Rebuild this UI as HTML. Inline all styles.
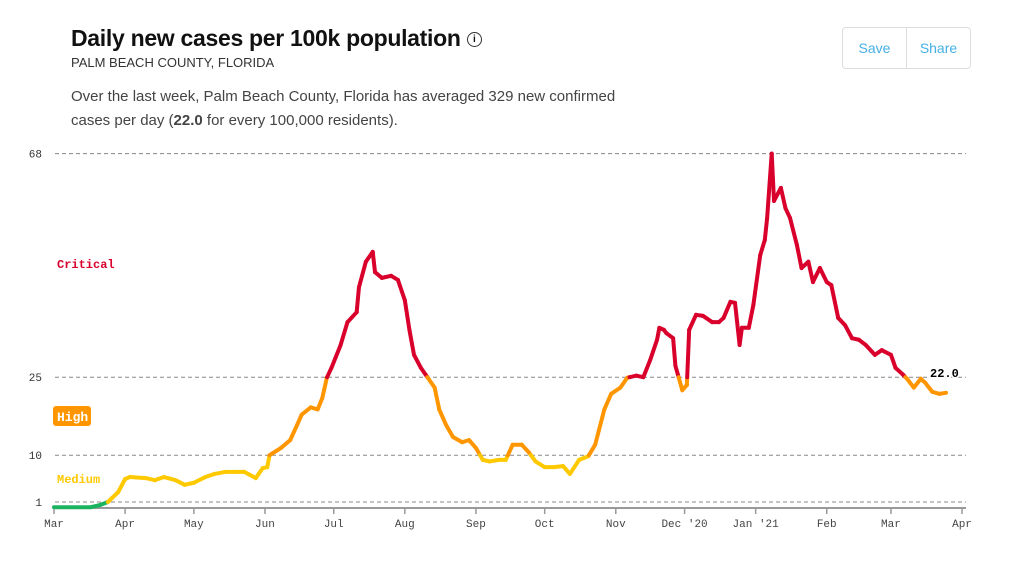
<!DOCTYPE html>
<html><head><meta charset="utf-8"><style>
body{margin:0;width:1010px;height:566px;background:#fff;font-family:"Liberation Sans",sans-serif;position:relative;overflow:hidden}
.t{position:absolute;left:71px;top:25px;font-size:23px;font-weight:bold;color:#111;letter-spacing:-0.3px}
.sub{position:absolute;left:71px;top:55px;font-size:13px;color:#333}
.desc{position:absolute;left:71px;top:85px;font-size:15px;color:#444;line-height:24px;width:575px}
.btns{position:absolute;left:842px;top:27px;width:127px;height:40px;border:1px solid #ddd;border-radius:4px;display:flex}
.btns div{flex:1;text-align:center;line-height:40px;font-size:14px;color:#45b0e6}
.btns div:first-child{border-right:1px solid #ddd}
</style></head><body>
<div class="t">Daily new cases per 100k population <span style="display:inline-block;width:13px;height:13px;border:1.5px solid #333;border-radius:50%;font-size:10px;line-height:13px;text-align:center;vertical-align:middle;font-weight:bold">i</span></div>
<div class="sub">PALM BEACH COUNTY, FLORIDA</div>
<div class="desc">Over the last week, Palm Beach County, Florida has averaged 329 new confirmed cases per day (<b>22.0</b> for every 100,000 residents).</div>
<div class="btns"><div>Save</div><div>Share</div></div>
<svg id="c" width="1010" height="566" style="position:absolute;left:0;top:0"></svg>
<script>
const days=[0,16,20,23.5,28,31,33,40,44,48,53,57,61,66,70,75,79,83,88,91,93,94,99,103,106,108,112,115,117,119,121,125,128,132,133,136,139,140,143,147,150,153,155,157,160,163,166,168,171,174,178,181,184,187,190,194,197,200,204,207,210,214,218,222,225,229,233,236,240,243,247,250,254,257,260,263,264,266,267,270,271,274,276,277,280,283,287,290,292,295,297,299,300,303,305,308,310,311,313,314,317,319,321,324,326,329,331,334,337,339,342,345,348,351,354,358,361,365,367,370,372,375,378,380,383,386,389];
const values=[0,0,0.4,1,2.9,5.4,5.8,5.6,5.2,5.8,5.2,4.3,4.7,5.8,6.4,6.8,6.8,6.8,5.6,7.5,7.7,10,11.4,12.9,15.8,17.8,19.2,18.8,21,24.9,26.8,31.2,35.6,37.5,42.3,47.2,49.1,45.2,44.1,44.5,43.7,39.8,34.1,29.3,26.8,24.9,23,18.8,15.8,13.5,12.5,12.9,11.4,9.1,8.8,9.1,9.1,12,12,10.6,8.8,7.7,7.7,7.9,6.4,9.1,9.8,12,18.8,21.8,23,24.9,25.3,25,28.3,32.2,34.5,34.1,33.5,32.5,27.2,22.5,23.5,34.1,37,36.8,35.6,35.6,36.4,39.5,39.3,31.2,34.5,34.5,38.9,48.5,51.4,55.6,68,58.9,61.4,57.5,55.6,50.4,46,47.2,43.3,46,43.3,42.7,36.4,35,32.5,32.2,31.2,29.3,30.2,29.3,26.8,25.6,24.7,23,24.7,23.9,22.2,21.8,22];
const yTicks=[68,25,10,1];
const months=["Mar","Apr","May","Jun","Jul","Aug","Sep","Oct","Nov","Dec '20","Jan '21","Feb","Mar","Apr"];
const monthDays=[0,31,61,92,122,153,184,214,245,275,306,337,365,396];
const X=d=>54+d*2.293, Y=v=>507.2-v*5.2;
const svg=document.getElementById('c'),NS='http://www.w3.org/2000/svg';
function mk(t,a,txt){const e=document.createElementNS(NS,t);for(const k in a)e.setAttribute(k,a[k]);if(txt!=null)e.textContent=txt;svg.appendChild(e);return e;}
const mono='"Liberation Mono",monospace';
yTicks.forEach(v=>{
 const l=mk('line',{x1:55,x2:966,y1:Y(v),y2:Y(v),stroke:'#888','stroke-dasharray':'4,3','stroke-width':1});
 
 
 const t=mk('text',{x:42,y:Y(v)+4,'text-anchor':'end','font-size':11,'font-family':mono,fill:'#333'},v);
 
 
});
const ax=mk('line',{x1:54,x2:966,y1:508,y2:508,stroke:'#999','stroke-width':2});


months.forEach((m,i)=>{
 const x=X(monthDays[i]);
 const tk=mk('line',{x1:x,x2:x,y1:508,y2:514,stroke:'#999','stroke-width':1.5});
 
 
 const t=mk('text',{x:x,y:527,'text-anchor':'middle','font-size':11,'font-family':mono,fill:'#444'},m);
 
 
});
const lc=mk('text',{x:57,y:268,'font-size':12,'font-weight':'bold','font-family':mono,fill:'#d9002c'},'Critical');


const hb=mk('rect',{x:53,y:406,width:38,height:20,rx:3,fill:'#ff9600'});


const lh=mk('text',{x:57,y:421,'font-size':13,'font-weight':'bold','font-family':mono,fill:'#fff'},'High');


const lm=mk('text',{x:57,y:483,'font-size':12,'font-weight':'bold','font-family':mono,fill:'#ffc900'},'Medium');


const th=[1,10,25];
function col(v){return v<1?'#1bb35f':v<10?'#ffc900':v<25?'#ff9600':'#d9002c';}
for(let i=0;i<days.length-1;i++){
 let d0=days[i],v0=values[i],d1=days[i+1],v1=values[i+1];
 let pts=[[d0,v0]];
 const cr=th.filter(t=>(t-v0)*(t-v1)<0).map(t=>[d0+(d1-d0)*(t-v0)/(v1-v0),t]);
 cr.sort((a,b)=>a[0]-b[0]);pts=pts.concat(cr);pts.push([d1,v1]);
 for(let j=0;j<pts.length-1;j++){
  const mv=(pts[j][1]+pts[j+1][1])/2;
  const s=mk('line',{x1:X(pts[j][0]),y1:Y(pts[j][1]),x2:X(pts[j+1][0]),y2:Y(pts[j+1][1]),stroke:col(mv),'stroke-width':4,'stroke-linecap':'round'});
  
  
 }
}
const lv=values[values.length-1];
const vl=mk('text',{x:930,y:Y(lv)-16,'font-size':12,'font-weight':'bold','font-family':mono,fill:'#000',stroke:'#fff','stroke-width':3,'paint-order':'stroke'},lv.toFixed(1));


</script>
</body></html>
